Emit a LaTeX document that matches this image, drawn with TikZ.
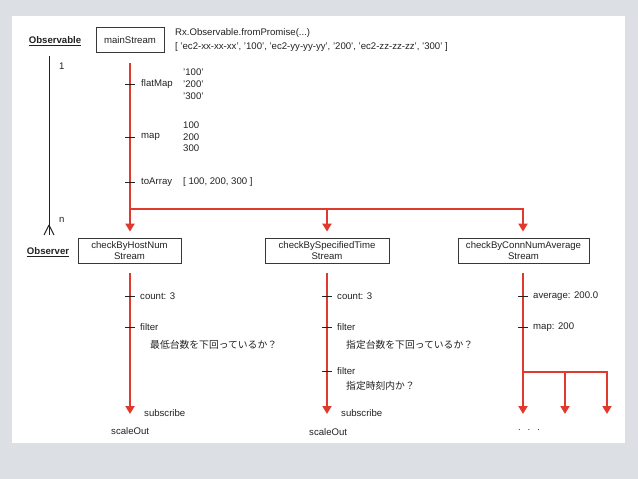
\documentclass[tikz,border=0pt]{standalone}
\usepackage{fontspec}
\setmainfont{Liberation Sans}
\newfontfamily\jpfont{Noto Sans CJK JP}
\usetikzlibrary{arrows.meta}
\definecolor{rxred}{HTML}{E0392E}
\definecolor{bggray}{HTML}{DCE0E4}
\definecolor{ink}{HTML}{222222}
\begin{document}
\begin{tikzpicture}[x=1pt,y=-1pt,
  every node/.style={font=\fontsize{9.6}{11.5}\selectfont, inner sep=0pt, text=ink},
  lbl/.style={anchor=west},
  jp/.style={anchor=west, font=\jpfont\fontsize{9.8}{11.5}\selectfont},
  head/.style={font=\fontsize{9.6}{11.5}\selectfont\bfseries},
  box/.style={draw=ink!90, line width=0.8pt, minimum height=25pt, align=center},
  flow/.style={draw=rxred, line width=2.3pt},
  flowarrow/.style={flow, -{Triangle[length=8pt,width=9pt]}},
  tickmark/.style={draw=ink, line width=0.9pt},
  lifeline/.style={draw=ink, line width=0.9pt},
]
% background and panel
\fill[bggray] (0,0) rectangle (638,479);
\fill[white] (12,16) rectangle (625,443);
\useasboundingbox (0,0) rectangle (638,479);

% Observable side
\node[head] (obs) at (55,41) {\underline{Observable}};
\node[head] (obsr) at (48,252) {\underline{Observer}};
\coordinate (lt) at (49,56);
\coordinate (lb) at (49,235);
\coordinate (lf) at (49,225);
\coordinate (lfl) at (44,235);
\coordinate (lfr) at (54,235);
\draw[lifeline] (lt) -- (lb);
\draw[lifeline] (lf) -- (lfl);
\draw[lifeline] (lf) -- (lfr);
\node[lbl] (one) at (59,66) {1};
\node[lbl] (nn) at (59,220) {n};

% main stream
\node[box, minimum width=68pt] (ms) at (130,40) {mainStream};
\node[lbl] (rx1) at (175,33) {Rx.Observable.fromPromise(...)};
\node[lbl] (rx2) at (175,47) {[ 'ec2-xx-xx-xx', '100', 'ec2-yy-yy-yy', '200', 'ec2-zz-zz-zz', '300' ]};

% streams boxes
\node[box, minimum width=103pt] (b1) at (129.5,250.5) {checkByHostNum\\Stream};
\node[box, minimum width=124pt] (b2) at (327,250.5) {checkBySpecifiedTime\\Stream};
\node[box, minimum width=131pt] (b3) at (523.5,250.5) {checkByConnNumAverage\\Stream};

\coordinate (j1) at (130,209);
\coordinate (j2) at (327,209);
\coordinate (j3) at (523,209);

\draw[flowarrow, shorten <=10pt, shorten >=6pt] (ms.south -| j1) -- (b1.north -| j1);
\draw[flowarrow, shorten >=6pt] (j1) -- (j3) -- (b3.north -| j3);
\draw[flowarrow, shorten >=6pt] (j2) -- (b2.north -| j2);

% ticks on main stream
\foreach \y in {84,137,182} \draw[tickmark] (125,\y) -- (135,\y);
\node[lbl] (fm) at (141,84) {flatMap};
\node[lbl] (fm1) at (183,72) {'100'};
\node[lbl] (fm2) at (183,84) {'200'};
\node[lbl] (fm3) at (183,96) {'300'};
\node[lbl] (mp) at (141,137) {map};
\node[lbl] (mp1) at (183,125) {100};
\node[lbl] (mp2) at (183,137) {200};
\node[lbl] (mp3) at (183,148) {300};
\node[lbl] (ta) at (141,182) {toArray};
\node[lbl] (ta1) at (183,182) {[ 100, 200, 300 ]};

% column 1
\coordinate (e1) at (130,414);
\draw[flowarrow, shorten <=10pt] (b1.south -| e1) -- (e1);
\foreach \y in {296,327} \draw[tickmark] (125,\y) -- (135,\y);
\node[lbl] (c1a) at (140,296) {count: 3};
\node[lbl] (c1b) at (140,327) {filter};
\node[jp] (c1c) at (150,345) {最低台数を下回っているか？};
\node[lbl] (c1d) at (144,413) {subscribe};
\node[lbl] (c1e) at (111,431) {scaleOut};

% column 2
\coordinate (e2) at (327,414);
\draw[flowarrow, shorten <=10pt] (b2.south -| e2) -- (e2);
\foreach \y in {296,327,371} \draw[tickmark] (322,\y) -- (332,\y);
\node[lbl] (c2a) at (337,296) {count: 3};
\node[lbl] (c2b) at (337,327) {filter};
\node[jp] (c2c) at (346,345) {指定台数を下回っているか？};
\node[lbl] (c2d) at (337,371) {filter};
\node[jp] (c2e) at (346,386) {指定時刻内か？};
\node[lbl] (c2f) at (341,413) {subscribe};
\node[lbl] (c2g) at (309,432) {scaleOut};

% column 3
\coordinate (e3) at (523,414);
\coordinate (k1) at (523,372);
\coordinate (k2) at (565,372);
\coordinate (k3) at (607,372);
\coordinate (e4) at (565,414);
\coordinate (e5) at (607,414);
\draw[flowarrow, shorten <=10pt] (b3.south -| e3) -- (e3);
\draw[flowarrow] (k1) -- (k3) -- (e5);
\draw[flowarrow] (k2) -- (e4);
\foreach \y in {296,327} \draw[tickmark] (518,\y) -- (528,\y);
\node[lbl] (c3a) at (533,296) {average: 200.0};
\node[lbl] (c3b) at (533,327) {map: 200};
\node[anchor=base] (dots) at (529,430) {.\hspace{7pt}.\hspace{7pt}.};
\end{tikzpicture}
\end{document}
